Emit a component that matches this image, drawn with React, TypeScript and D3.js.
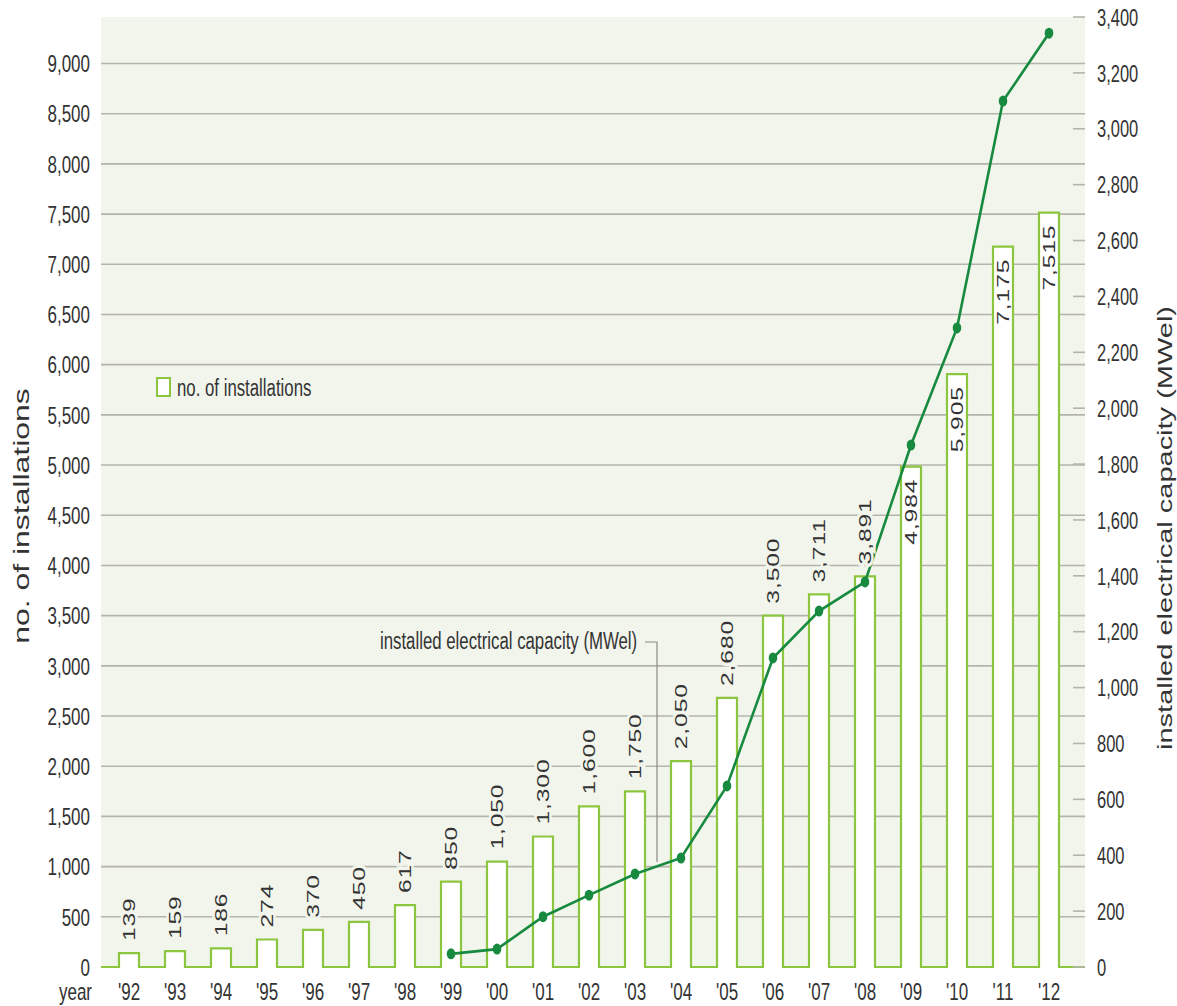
import React from "react";
import * as d3 from "d3";

const years = ["'92","'93","'94","'95","'96","'97","'98","'99","'00","'01","'02","'03","'04","'05","'06","'07","'08","'09","'10","'11","'12"];
const installations = [139,159,186,274,370,450,617,850,1050,1300,1600,1750,2050,2680,3500,3711,3891,4984,5905,7175,7515];
const capacityYears = ["'99","'00","'01","'02","'03","'04","'05","'06","'07","'08","'09","'10","'11","'12"];
const capacity = [47,64,180,257,333,390,648,1106,1274,1378,1868,2287,3099,3342];
const leftTicks = [0,500,1000,1500,2000,2500,3000,3500,4000,4500,5000,5500,6000,6500,7000,7500,8000,8500,9000];
const rightTicks = [0,200,400,600,800,1000,1200,1400,1600,1800,2000,2200,2400,2600,2800,3000,3200,3400];
const insideFrom = 17; // index from which labels sit inside the bar

const W = 1177, H = 1006;
const plotLeft = 101, plotRight = 1085, plotTop = 17, base = 967;
const SY = 1.45;
const BG = "#f2f5eb";
const GRID = "#b3b5ac";
const BAR = "#8cc63f";
const LINE = "#178a40";
const TXT = "#333333";
const FONT = "'Liberation Sans', Arial, sans-serif";
const fmt = d3.format(",");

function T({ x, y, size, anchor = "middle", rot = false, halo = false, spacing = 0, children }: any) {
  return (
    <text
      transform={`translate(${x},${y}) scale(1,${SY})${rot ? " rotate(-90)" : ""}`}
      textAnchor={anchor}
      dominantBaseline="central"
      fontSize={size}
      fontFamily={FONT}
      fill={TXT}
      letterSpacing={spacing}
      stroke={halo ? BG : "none"}
      strokeWidth={halo ? 5 : 0}
      paintOrder="stroke"
    >
      {children}
    </text>
  );
}

export default function App() {
  const x = d3.scalePoint<string>().domain(years).range([129, 1049]);
  const yL = d3.scaleLinear().domain([0, 9000]).range([base, 63.5]);
  const yR = d3.scaleLinear().domain([0, 3400]).range([base, plotTop]);
  const bw = 20;

  const p = d3.path();
  p.moveTo(plotLeft, base);
  years.forEach((yr, i) => {
    const cx = x(yr)!;
    const top = yL(installations[i]);
    p.lineTo(cx - bw / 2, base);
    p.lineTo(cx - bw / 2, top);
    p.lineTo(cx + bw / 2, top);
    p.lineTo(cx + bw / 2, base);
  });
  p.lineTo(plotRight, base);

  const lineGen = d3
    .line<number>()
    .x((_, i) => x(capacityYears[i])!)
    .y((d) => yR(d));

  return (
    <svg width={W} height={H} style={{ position: "absolute", left: 0, top: 0, background: "#fff" }}>
      <rect x={plotLeft} y={plotTop} width={plotRight - plotLeft} height={base - plotTop} fill={BG} />
      {leftTicks.filter((t) => t > 0).map((t) => (
        <line key={t} x1={plotLeft} x2={plotRight} y1={yL(t)} y2={yL(t)} stroke={GRID} strokeWidth={1.6} />
      ))}
      {years.map((yr, i) => (
        <rect key={yr} x={x(yr)! - bw / 2} y={yL(installations[i])} width={bw} height={base - yL(installations[i])} fill="#fff" />
      ))}
      <path d={p.toString()} fill="none" stroke={BAR} strokeWidth={2.2} />
      {rightTicks.map((t) => (
        <line key={t} x1={1073} x2={plotRight} y1={yR(t)} y2={yR(t)} stroke={GRID} strokeWidth={1.6} />
      ))}
      {/* annotation leader */}
      <path d={`M645,642 H657 V862`} fill="none" stroke="#8a8c86" strokeWidth={1.2} />
      <T x={380} y={640} size={16.8} anchor="start" halo>installed electrical capacity (MWel)</T>

      <path d={lineGen(capacity)!} fill="none" stroke={LINE} strokeWidth={2.6} />
      {capacity.map((c, i) => (
        <ellipse key={i} cx={x(capacityYears[i])} cy={yR(c)} rx={4.3} ry={5.5} fill={LINE} />
      ))}

      {years.map((yr, i) => {
        const top = yL(installations[i]);
        const inside = i >= insideFrom;
        return (
          <T key={yr} x={x(yr)!} y={inside ? top + 12 : top - 12} size={17} spacing={0.6} anchor={inside ? "end" : "start"} rot halo={!inside}>
            {fmt(installations[i])}
          </T>
        );
      })}

      {leftTicks.map((t) => (
        <T key={t} x={90} y={yL(t)} size={17} anchor="end">{fmt(t)}</T>
      ))}
      {rightTicks.map((t) => (
        <T key={t} x={1097} y={yR(t)} size={16.5} anchor="start">{fmt(t)}</T>
      ))}
      <T x={92} y={991} size={17} anchor="end">year</T>
      {years.map((yr) => (
        <T key={yr} x={x(yr)!} y={991} size={17}>{yr}</T>
      ))}

      <T x={21} y={516} size={22} rot>no. of installations</T>
      <T x={1165} y={528} size={20} rot>installed electrical capacity (MWel)</T>

      <rect x={157} y={378} width={13} height={18} fill="#fff" stroke={BAR} strokeWidth={2} />
      <T x={177} y={387} size={16.8} anchor="start">no. of installations</T>
    </svg>
  );
}
